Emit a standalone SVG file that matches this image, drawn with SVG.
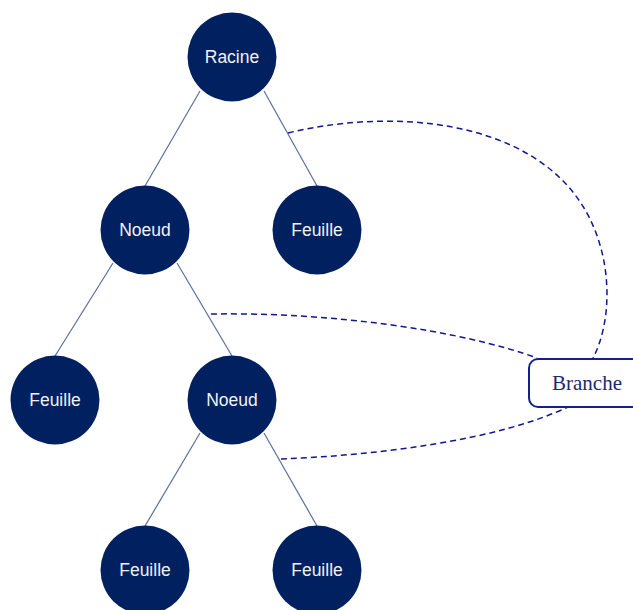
<svg xmlns="http://www.w3.org/2000/svg" width="633" height="610" viewBox="0 0 633 610">
<style>
.edge{stroke:#5b6e9e;stroke-width:1.2;fill:none}
.dash{stroke:#101890;stroke-width:1.5;fill:none;stroke-dasharray:6 4}
.node circle{fill:#002060}
.node text{fill:#f2f2f2;font-family:"Liberation Sans",Arial,sans-serif;font-size:17.5px;text-anchor:middle}
.label rect{fill:#ffffff;stroke:#14208f;stroke-width:2}
.label text{fill:#1a2a6c;font-family:"Liberation Serif","Times New Roman",serif;font-size:21px;text-anchor:middle}
</style>
<rect width="633" height="610" fill="#ffffff"/>
<g id="connectors">
<line class="edge" x1="200" y1="91" x2="145" y2="186"/>
<line class="edge" x1="264" y1="91" x2="317" y2="186"/>
<line class="edge" x1="113" y1="263" x2="55" y2="356"/>
<line class="edge" x1="177" y1="263" x2="232" y2="356"/>
<line class="edge" x1="200" y1="433" x2="145" y2="526"/>
<line class="edge" x1="264" y1="433" x2="317" y2="526"/>
<path class="dash" d="M288,133 C390,108 530,118 584,208 C614,258 612,322 593,358"/>
<path class="dash" d="M211,314 C330,312 460,330 537,358"/>
<path class="dash" d="M281,459 C380,455 500,440 570,406"/>
</g>
<g id="racine" class="node"><circle cx="232" cy="57" r="44.5"/><text x="232" y="63">Racine</text></g>
<g id="noeud1" class="node"><circle cx="145" cy="230" r="44.5"/><text x="145" y="236">Noeud</text></g>
<g id="feuille1" class="node"><circle cx="317" cy="230" r="44.5"/><text x="317" y="236">Feuille</text></g>
<g id="feuille2" class="node"><circle cx="55" cy="400" r="44.5"/><text x="55" y="406">Feuille</text></g>
<g id="noeud2" class="node"><circle cx="232" cy="400" r="44.5"/><text x="232" y="406">Noeud</text></g>
<g id="feuille3" class="node"><circle cx="145" cy="570" r="44.5"/><text x="145" y="576">Feuille</text></g>
<g id="feuille4" class="node"><circle cx="317" cy="570" r="44.5"/><text x="317" y="576">Feuille</text></g>
<g id="branche" class="label"><rect x="529" y="359" width="118" height="48" rx="9"/><text x="587" y="390">Branche</text></g>
</svg>
